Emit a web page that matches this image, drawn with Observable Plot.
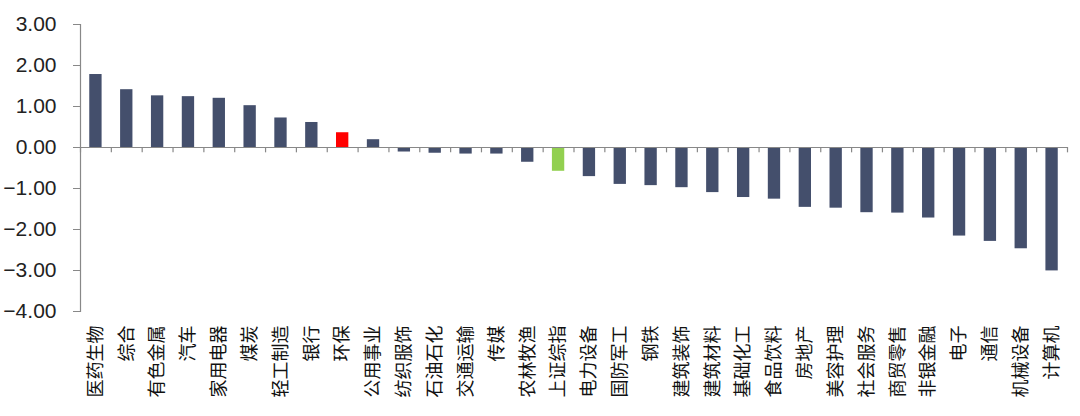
<!DOCTYPE html>
<html><head><meta charset="utf-8">
<script src="https://cdn.jsdelivr.net/npm/d3@7"></script>
<script src="https://cdn.jsdelivr.net/npm/@observablehq/plot@0.6"></script>
<style>
body{margin:0;background:#fff;}
#chart svg{font-family:"Liberation Sans","Noto Sans CJK SC",sans-serif;}
</style>
</head><body><div id="chart"></div>
<script>
const categories = ["医药生物","综合","有色金属","汽车","家用电器","煤炭","轻工制造","银行","环保","公用事业","纺织服饰","石油石化","交通运输","传媒","农林牧渔","上证综指","电力设备","国防军工","钢铁","建筑装饰","建筑材料","基础化工","食品饮料","房地产","美容护理","社会服务","商贸零售","非银金融","电子","通信","机械设备","计算机"];
const values = [1.78,1.41,1.26,1.24,1.20,1.02,0.72,0.61,0.36,0.19,-0.11,-0.14,-0.16,-0.16,-0.36,-0.58,-0.71,-0.90,-0.93,-0.98,-1.10,-1.22,-1.26,-1.46,-1.48,-1.59,-1.60,-1.72,-2.16,-2.29,-2.47,-3.01];
const yTicks = [3,2,1,0,-1,-2,-3,-4];
const highlight = {"环保":"#ff0000","上证综指":"#92d050"};

const data = categories.map((c,i)=>({cat:c, v:values[i], color: highlight[c] || "#444f6c"}));
const W = 1080, ML = 80, MR = 13;
const step = (W - ML - MR) / categories.length;

const chart = Plot.plot({
  width: W, height: 416,
  marginLeft: ML, marginRight: MR, marginTop: 24, marginBottom: 105,
  x: {domain: categories, paddingInner: 0.6, paddingOuter: 0.3, align: 0.5, round: false},
  y: {domain: [-4, 3]},
  marks: [
    Plot.barY(data, {x:"cat", y:"v", fill:"color"}),
    Plot.ruleY([0], {stroke:"#888", strokeWidth:1.2}),
    Plot.ruleX(categories, {x: d=>d, y1: 0, y2: -0.13, dx: -step/2, stroke:"#888", strokeWidth:1.2}),
    Plot.ruleX([categories[categories.length-1]], {x: d=>d, y1: 0, y2: -0.13, dx: step/2, stroke:"#888", strokeWidth:1.2}),
    Plot.frame({anchor:"left", stroke:"#888", strokeWidth:1.2}),
    Plot.axisY({ticks: yTicks, tickFormat: d3.format(".2f"), tickSize: 7, tickPadding: 17, fontSize: 21, stroke:"#888", color:"#222", label: null}),
    Plot.axisX({tickSize: 0, tickPadding: 14, tickRotate: -90, fontSize: 18, color:"#111", label: null})
  ]
});
document.getElementById("chart").append(chart);
</script>
</body></html>
